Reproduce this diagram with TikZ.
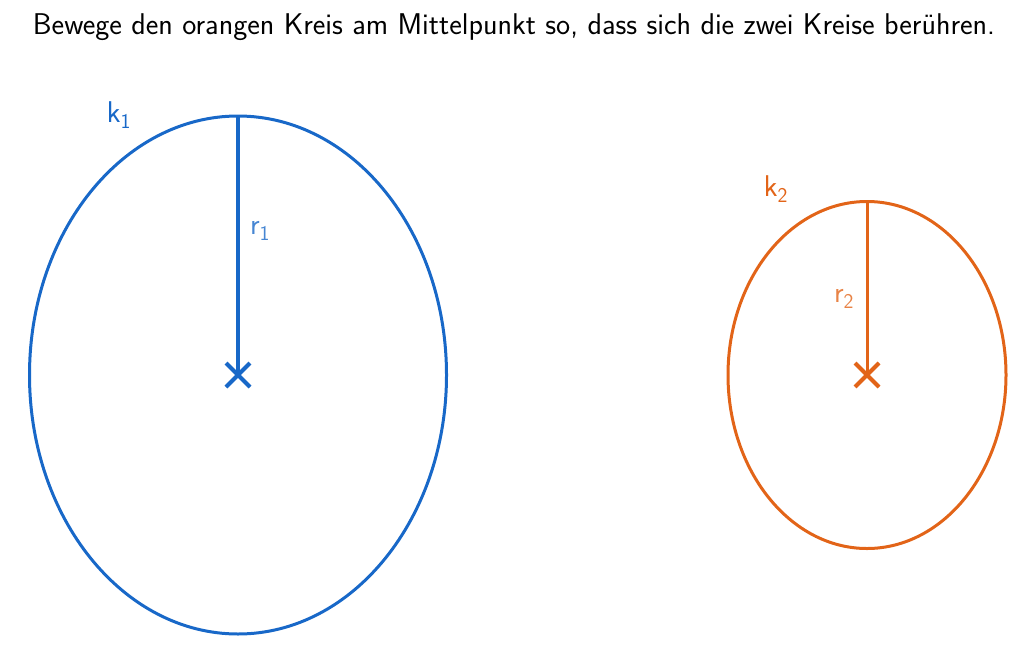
\documentclass[tikz,border=0pt]{standalone}
\usepackage{tikz}
\usetikzlibrary{shapes.misc}
\definecolor{kblue}{RGB}{24,104,200}
\definecolor{korange}{RGB}{226,100,24}

\begin{document}
\begin{tikzpicture}[x=1pt,y=-1pt,font=\sffamily\fontsize{30}{36}\selectfont,
  inner sep=0pt]
  \tikzstyle{center}=[cross out,draw,line width=4pt,minimum size=20pt]
  \tikzstyle{circ}=[line width=3pt]

  \useasboundingbox (0,0) rectangle (1032,645);
  \node (T) at (514,27) {Bewege den orangen Kreis am Mittelpunkt so, dass sich die zwei Kreise berühren.};

  % blue circle
  \coordinate (M1) at (238,375);
  \coordinate (P1) at (238,116);
  \draw[kblue,circ] (M1) ellipse [x radius=208.5,y radius=259];
  \draw[kblue,line width=3.5pt] (P1) -- (M1);
  \node[kblue,center] (X1) at (M1) {};
  \node[kblue] (K1) at (119,115) {k\textsubscript{1}};
  \node[kblue!80] (R1) at (260,231) {r\textsubscript{1}};

  % orange circle
  \coordinate (M2) at (867,375);
  \coordinate (P2) at (867,201);
  \draw[korange,circ] (M2) ellipse [x radius=139,y radius=173.5];
  \draw[korange,line width=3pt] (P2) -- (M2);
  \node[korange,center] (X2) at (M2) {};
  \node[korange] (K2) at (776,189) {k\textsubscript{2}};
  \node[korange!80] (R2) at (844,299) {r\textsubscript{2}};
\end{tikzpicture}
\end{document}
